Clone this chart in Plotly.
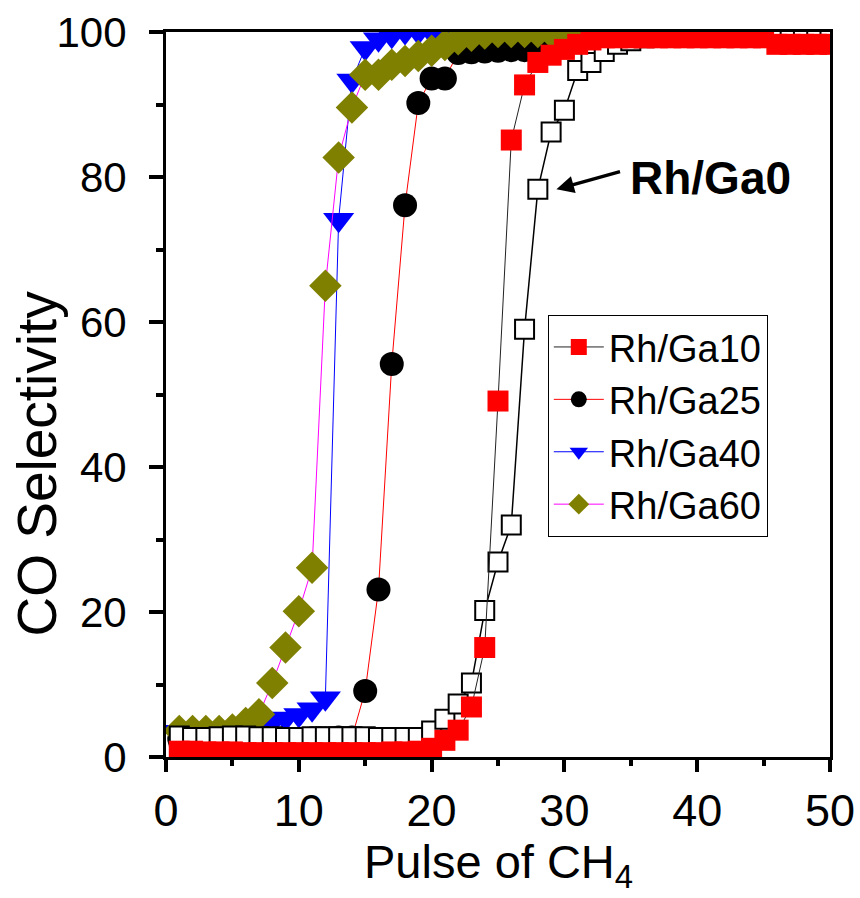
import plotly.graph_objects as go

pulses = list(range(1, 51))
pulses_40 = list(range(1, 41))

ga0 = [2.9, 2.7, 2.7, 2.8, 2.9, 2.9, 2.8, 2.8, 2.7, 2.7, 2.8, 2.8, 2.8, 2.8, 2.8, 2.7, 2.7, 2.7, 2.7,
       3.6, 5.2, 7.3, 10.2, 20.2, 26.9, 32.0, 59.0, 78.3, 86.2, 89.2, 94.7, 95.8, 97.3, 98.3, 98.8,
       99.2, 99.3, 99.4, 99.4, 99.5, 99.5, 99.5, 99.5, 99.6, 99.6, 99.6, 99.7, 99.7, 99.7, 99.7]

ga10 = [0.8, 0.8, 0.7, 0.7, 0.7, 0.6, 0.6, 0.6, 0.6, 0.6, 0.6, 0.6, 0.6, 0.6, 0.6, 0.6, 0.7, 0.7, 0.8,
        1.2, 2.3, 3.7, 6.9, 15.1, 49.1, 85.1, 92.7, 95.8, 96.8, 97.6, 98.3, 98.9, 99.2, 99.2, 99.2,
        99.2, 99.2, 99.2, 99.2, 99.2, 99.2, 99.2, 99.2, 99.2, 99.2, 98.3, 98.3, 98.3, 98.3, 98.3]

ga25 = [2.5, 2.5, 2.5, 2.5, 2.5, 2.5, 2.5, 2.5, 2.5, 2.5, 2.6, 2.6, 2.7, 2.7,
        9.1, 23.1, 54.2, 76.1, 90.2, 93.6, 93.6, 97.1, 97.2, 97.3, 97.4, 97.5, 97.5, 97.7,
        99.6, 99.7, 99.7, 99.7, 99.7, 99.7, 99.7, 99.7, 99.7, 99.7, 99.7, 99.7]

ga40 = [3.5, 3.5, 3.5, 3.6, 3.6, 3.7, 4.0, 4.8, 5.3, 5.8, 6.6, 8.1, 74.1, 93.3, 97.8, 99.0, 99.5,
        100, 100, 100, 100, 100, 100, 100, 100, 100, 100, 100, 100, 100, 100, 100, 100, 100, 100,
        100, 100, 100, 100, 100]

ga60 = [3.6, 3.6, 3.6, 3.6, 3.8, 4.7, 5.9, 10.2, 15.1, 20.1, 26.1, 65.0, 82.7, 89.6, 94.1, 94.1,
        95.5, 96.0, 96.7, 97.4, 98.2, 99.0, 99.5, 99.8, 100, 100, 100, 100, 100, 100, 100, 100,
        100, 100, 100, 100, 100, 100, 100, 100]

FONT = "Liberation Sans, Arial, sans-serif"

fig = go.Figure()

fig.add_trace(go.Scatter(
    x=pulses_40, y=ga25, name="Rh/Ga25", mode="lines+markers", legendrank=2,
    line=dict(color="red", width=1),
    marker=dict(symbol="circle", size=24, color="black", line=dict(width=0))))
fig.add_trace(go.Scatter(
    x=pulses_40, y=ga40, name="Rh/Ga40", mode="lines+markers", legendrank=3,
    line=dict(color="blue", width=1),
    marker=dict(symbol="triangle-down", size=27, color="blue", line=dict(width=0))))
fig.add_trace(go.Scatter(
    x=pulses_40, y=ga60, name="Rh/Ga60", mode="lines+markers", legendrank=4,
    line=dict(color="magenta", width=1),
    marker=dict(symbol="diamond", size=25, color="#808000", line=dict(width=0))))
fig.add_trace(go.Scatter(
    x=pulses, y=ga0, name="Rh/Ga0", mode="lines+markers", showlegend=False,
    line=dict(color="black", width=1.5),
    marker=dict(symbol="square", size=19, color="white", line=dict(color="black", width=2))))
fig.add_trace(go.Scatter(
    x=pulses, y=ga10, name="Rh/Ga10", mode="lines+markers", legendrank=1,
    line=dict(color="#222222", width=1),
    marker=dict(symbol="square", size=21, color="red", line=dict(width=0))))

fig.add_annotation(x=29.4, y=78.3, ax=34.3, ay=80.8, xref="x", yref="y", axref="x", ayref="y",
                   text="", showarrow=True, arrowhead=2, arrowsize=1, arrowwidth=3.5,
                   arrowcolor="black")
fig.add_annotation(x=34.8, y=79.9, xref="x", yref="y", text="<b>Rh/Ga0</b>", showarrow=False,
                   xanchor="left", yanchor="middle",
                   font=dict(family=FONT, size=46, color="black"))

# axis titles as annotations for precise placement
fig.add_annotation(x=-0.194, y=0.405, xref="paper", yref="paper", text="CO Selectivity",
                   textangle=-90, showarrow=False, xanchor="center", yanchor="middle",
                   font=dict(family=FONT, size=55, color="black"))
fig.add_annotation(x=0.5, y=-0.105, xref="paper", yref="paper", text="Pulse of CH<sub>4</sub>",
                   showarrow=False, xanchor="center", yanchor="top",
                   font=dict(family=FONT, size=47, color="black"))

fig.update_xaxes(range=[0, 50], tickmode="linear", tick0=0, dtick=10,
                 ticks="outside", ticklen=12, tickwidth=4, tickcolor="black",
                 minor=dict(dtick=5, ticks="outside", ticklen=6, tickwidth=4, tickcolor="black"),
                 showline=True, linewidth=3, linecolor="black", mirror=True,
                 showgrid=False, zeroline=False,
                 tickfont=dict(family=FONT, size=45, color="black"))
fig.update_yaxes(range=[0, 100], tickmode="linear", tick0=0, dtick=20,
                 ticks="outside", ticklen=14, tickwidth=4, tickcolor="black",
                 minor=dict(dtick=10, ticks="outside", ticklen=7, tickwidth=4, tickcolor="black"),
                 showline=True, linewidth=3, linecolor="black", mirror=True,
                 showgrid=False, zeroline=False, ticklabelstandoff=14,
                 tickfont=dict(family=FONT, size=42, color="black"))

fig.update_layout(
    width=860, height=898,
    margin=dict(l=166, r=30, t=32, b=141, autoexpand=False),
    plot_bgcolor="white", paper_bgcolor="white",
    font=dict(family=FONT, color="black"),
    legend=dict(x=0.575, y=0.61, xanchor="left", yanchor="top",
                bordercolor="black", borderwidth=1, bgcolor="rgba(255,255,255,0)",
                font=dict(family=FONT, size=38, color="black"),
                itemsizing="trace", itemwidth=50, tracegroupgap=0),
)

fig.write_html("out.html")
